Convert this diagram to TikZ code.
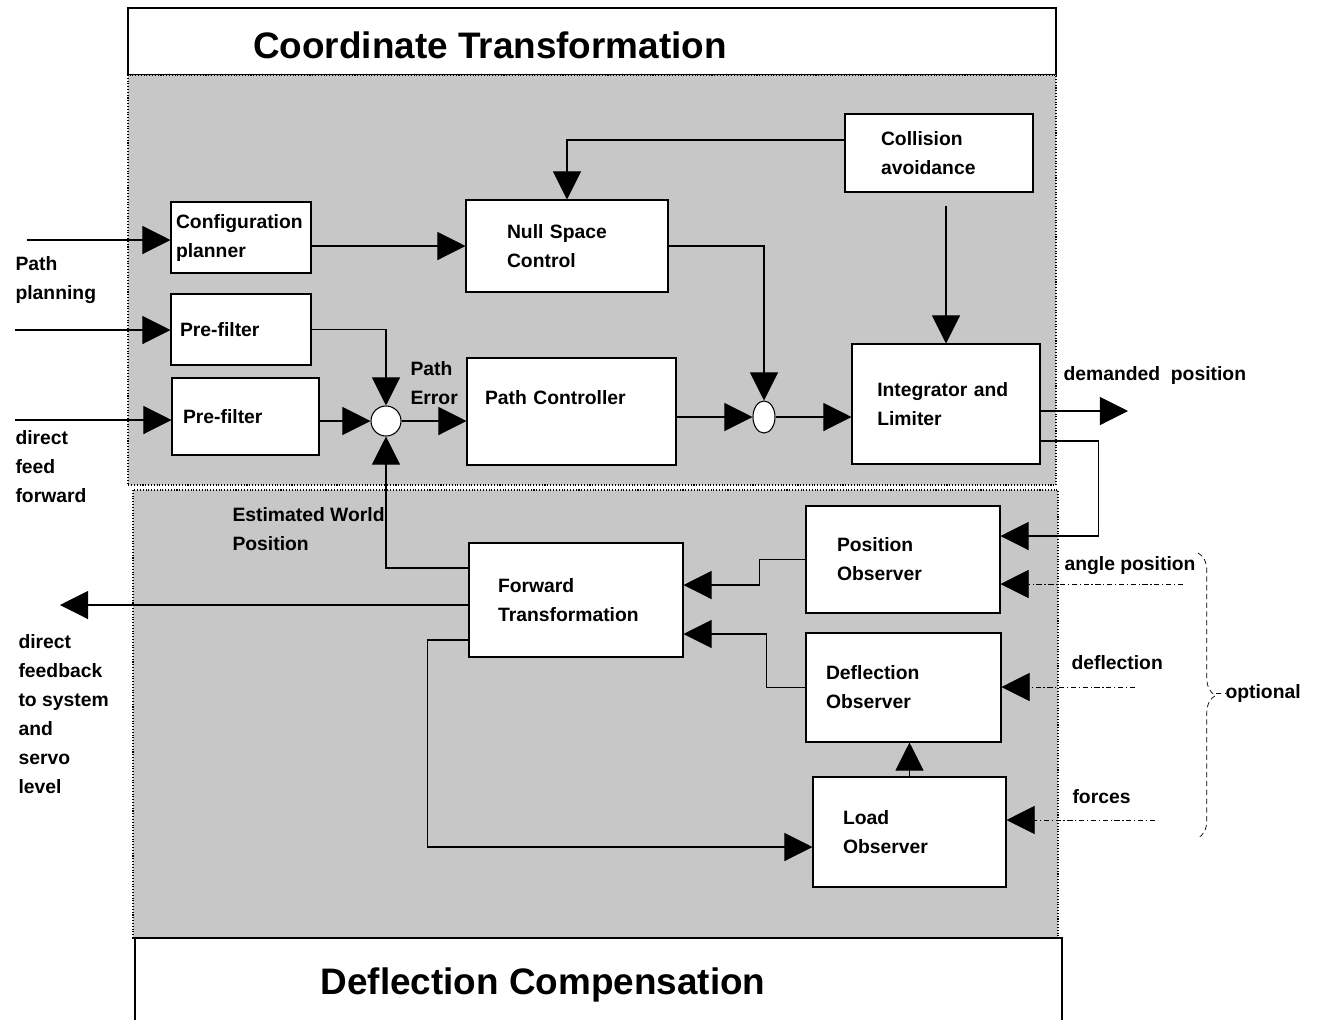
\documentclass[tikz,border=0pt]{standalone}
\usepackage{fontspec}
\setmainfont{Liberation Sans}
\usetikzlibrary{arrows.meta,shapes.geometric,decorations.pathreplacing}
\begin{document}
\begin{tikzpicture}[x=0.02cm,y=-0.02cm,line width=0.6pt,
  blk/.style={draw,fill=white,inner sep=0pt,align=left,font=\bfseries\fontsize{11}{16.5}\selectfont},
  txt/.style={align=left,inner sep=0pt,font=\bfseries\fontsize{11}{16.5}\selectfont},
  ttl/.style={font=\bfseries\fontsize{21}{25}\selectfont},
  sz/.style n args={3}{minimum width=#1cm,minimum height=#2cm,text width=#3cm},
  arr/.style={-{Triangle[length=16pt,width=16pt]}},
  inp/.style={arr,line width=0.4pt,dash pattern=on 3pt off 1.5pt on 0.7pt off 1.5pt}]
\useasboundingbox (0,0) rectangle (1320,1019);
\fill[white] (0,0) rectangle (1320,1019);
\draw[fill=white] (128,8) rectangle (1056,75);
\node[ttl] (ttlA) at (490,45) {Coordinate Transformation};
\draw[fill=black!22,densely dotted] (128,75) rectangle (1056,485);
\draw[fill=black!22,densely dotted] (133,490) rectangle (1058,938);
\draw[fill=white] (135,938) rectangle (1062,1040);
\node[ttl] (ttlB) at (543,985) {Deflection Compensation};

\node[blk,sz={2.8}{1.42}{2.6}] (cfg) at (241,237.5) {Configuration\\planner};
\node[blk,sz={2.8}{1.42}{2.44}] (pfA) at (241,329.5) {Pre-filter};
\node[blk,sz={2.94}{1.54}{2.5}] (pfB) at (245.5,416.5) {Pre-filter};
\node[blk,sz={4.04}{1.84}{2.4}] (nsc) at (567,246) {Null Space\\Control};
\node[blk,sz={4.18}{2.14}{3.46}] (pc) at (571.5,411.5) {Path Controller\\\phantom{X}};
\node[blk,sz={3.76}{1.56}{2.32}] (col) at (939,153) {Collision\\avoidance};
\node[blk,sz={3.76}{2.4}{2.75}] (intl) at (946,404) {Integrator and\\Limiter};
\node[blk,sz={3.88}{2.14}{2.64}] (pos) at (903,559.5) {Position\\Observer};
\node[blk,sz={4.28}{2.28}{3.12}] (fwd) at (576,600) {Forward\\Transformation};
\node[blk,sz={3.9}{2.18}{3.1}] (defl) at (903.5,687.5) {Deflection\\Observer};
\node[blk,sz={3.86}{2.2}{2.66}] (load) at (909.5,832) {Load\\Observer};
\node[draw,fill=white,circle,minimum size=0.6cm,inner sep=0pt] (sumA) at (386,421) {};
\node[draw,fill=white,ellipse,minimum width=0.44cm,minimum height=0.64cm,inner sep=0pt] (sumB) at (764,417) {};

\node[txt,anchor=west] (ppl) at (15,280) {Path\\planning};
\node[txt,anchor=west] (dff) at (15,467) {direct\\feed\\forward};
\node[txt,anchor=west] (dfb) at (18,714) {direct\\feedback\\to system\\and\\servo\\level};
\node[txt,anchor=west] (ewp) at (232,529) {Estimated World\\Position};
\node[txt,anchor=west] (perr) at (410,383) {Path\\Error};
\node[txt,anchor=west] (dpos) at (1063,375) {demanded\ \ position};
\node[txt,anchor=west] (angL) at (1064,566) {angle position};
\node[txt,anchor=west] (deflL) at (1071,663) {deflection};
\node[txt,anchor=west] (forL) at (1072,797) {forces};
\node[txt,anchor=west] (opt) at (1225,693) {optional};

\coordinate (inA) at (27,240);
\coordinate (inB) at (15,330);
\coordinate (inC) at (15,420);
\coordinate (dp) at (1128,411);
\coordinate (fb) at (60,605);
\coordinate (angI) at (1183,584);
\coordinate (deflI) at (1135,687);
\coordinate (forI) at (1155,820);
\coordinate (colO) at ([yshift=-0.26cm]col.south);
\coordinate (brT) at (1216,693);

\draw[arr] (inA) -- (inA -| cfg.west);
\draw[arr] (inB) -- (inB -| pfA.west);
\draw[arr] (inC) -- (inC -| pfB.west);
\draw[arr] (cfg.east |- nsc) -- (nsc.west);
\draw[arr] (pfA.east) -| (sumA.north);
\draw[arr] (pfB.east |- sumA) -- (sumA.west);
\draw[arr] (sumA.east) -- (sumA -| pc.west);
\draw[arr] ([yshift=0.64cm]fwd.west) -| (sumA.south);
\draw[arr] (nsc.east) -| (sumB.north);
\draw[arr] (pc.east |- sumB) -- (sumB.west);
\draw[arr] (sumB.east) -- (sumB -| intl.west);
\draw[arr] ([yshift=0.26cm]col.west) -| (nsc.north);
\draw[arr] (intl.north |- colO) -- (intl.north);
\draw[arr] (intl.east |- dp) -- (dp);
\draw[arr] ([yshift=-0.74cm]intl.east) -- ++(58,0) |- ([yshift=0.47cm]pos.east);
\draw[inp] (angI) -- (angI -| pos.east);
\draw[inp] (deflI) -- (deflI -| defl.east);
\draw[inp] (forI) -- (forI -| load.east);
\draw[arr] (pos.west) -- ++(-46,0) |- ([yshift=0.3cm]fwd.east);
\draw[arr] (defl.west) -- ++(-39,0) |- ([yshift=-0.68cm]fwd.east);
\draw[arr] (load.north) -- (load.north |- defl.south);
\draw[arr] (fwd.west |- fb) -- (fb);
\draw[arr] ([yshift=-0.8cm]fwd.west) -- ++(-41,0) |- ([yshift=-0.3cm]load.west);
\draw[line width=0.4pt,densely dashed,decorate,decoration={brace,amplitude=10pt}] (1198,553) -- (1198,838);
\draw[line width=0.4pt,densely dashed] (brT) -- (opt.west);
\end{tikzpicture}
\end{document}
